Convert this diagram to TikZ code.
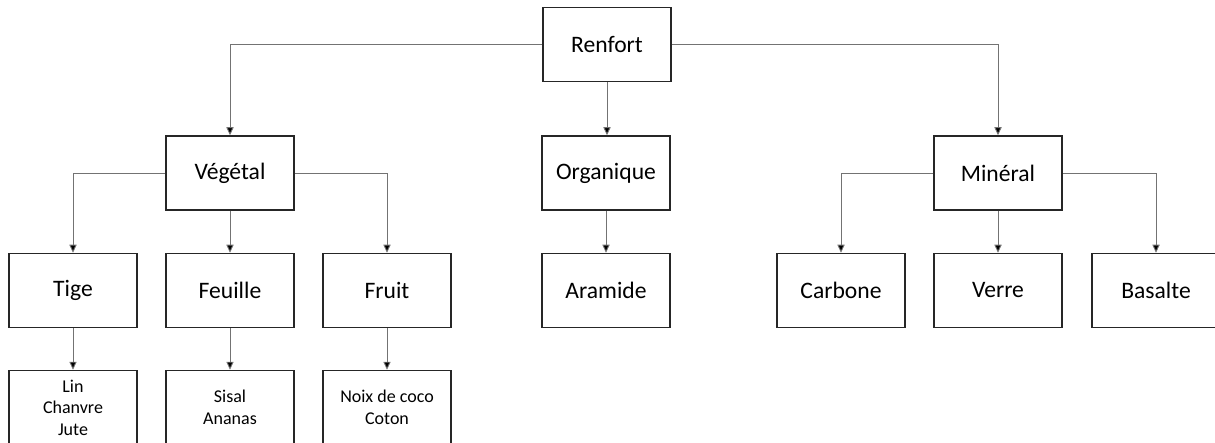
\documentclass[tikz,border=0pt]{standalone}
\usepackage{fontspec}
\setmainfont{Carlito}
\usetikzlibrary{arrows.meta}
\begin{document}
\begin{tikzpicture}[x=0.5pt,y=-0.5pt,
  box/.style={draw=black!85,line width=0.75pt,fill=white,minimum width=64pt,minimum height=37pt,inner sep=0pt,align=center,font=\fontsize{11.8}{13.5}\selectfont},
  leaf/.style={box,font=\fontsize{9}{10.8}\selectfont},
  link/.style={draw=black!55,line width=0.45pt,-{Triangle[width=3.6pt,length=4pt,fill=black]}}]
\useasboundingbox (0,0) rectangle (1215,443);
\node[box] (ren) at (607,44.5) {Renfort};
\node[box] (veg) at (230,173) {Végétal};
\node[box] (org) at (606,173) {Organique};
\node[box] (min) at (998,173) {Minéral};
\node[box] (tig) at (73,290.5) {Tige};
\node[box] (feu) at (230,290.5) {Feuille};
\node[box] (fru) at (387,290.5) {Fruit};
\node[box] (ara) at (606,290.5) {Aramide};
\node[box] (car) at (841,290.5) {Carbone};
\node[box] (ver) at (998,290.5) {Verre};
\node[box] (bas) at (1156,290.5) {Basalte};
\node[leaf] (lin) at (73,407.5) {Lin\\Chanvre\\Jute};
\node[leaf] (sis) at (230,407.5) {Sisal\\Ananas};
\node[leaf] (noi) at (387,407.5) {Noix de coco\\Coton};
\draw[link] (ren.west) -| (veg.north);
\draw[link] (ren.south) -- (ren.south |- org.north);
\draw[link] (ren.east) -| (min.north);
\draw[link] (veg.west) -| (tig.north);
\draw[link] (veg.south) -- (feu.north);
\draw[link] (veg.east) -| (fru.north);
\draw[link] (org.south) -- (ara.north);
\draw[link] (min.west) -| (car.north);
\draw[link] (min.south) -- (ver.north);
\draw[link] (min.east) -| (bas.north);
\draw[link] (tig.south) -- (lin.north);
\draw[link] (feu.south) -- (sis.north);
\draw[link] (fru.south) -- (noi.north);
\end{tikzpicture}
\end{document}
